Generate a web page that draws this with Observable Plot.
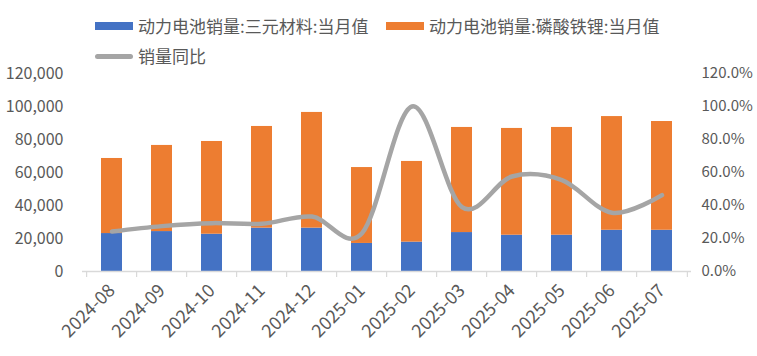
<!DOCTYPE html>
<html><head><meta charset="utf-8">
<script src="https://cdn.jsdelivr.net/npm/d3@7"></script>
<script src="https://cdn.jsdelivr.net/npm/@observablehq/plot@0.6"></script>
<style>
body{margin:0;background:#fff;font-family:"Noto Sans CJK SC",sans-serif;}
#wrap{position:relative;width:757px;height:356px;}
.lg{position:absolute;font-size:17px;color:#595959;white-space:nowrap;line-height:1;}
.sw{position:absolute;}
</style></head><body><div id="wrap"></div>
<script>
const months = ["2024-08","2024-09","2024-10","2024-11","2024-12","2025-01","2025-02","2025-03","2025-04","2025-05","2025-06","2025-07"];
const seriesNames = ["动力电池销量:三元材料:当月值","动力电池销量:磷酸铁锂:当月值","销量同比"];
const ncm = [23000,24200,22600,26300,26300,17000,17800,23600,22000,22000,25000,25000];
const lfp = [45500,52200,56200,61600,70100,46000,48900,63700,64700,65300,68900,65900];
const yoy = [24.2,27.5,29.3,28.9,33.3,23.2,100.0,39.0,57.6,55.4,35.6,46.3];
const leftTicks = [0,20000,40000,60000,80000,100000,120000];
const colors = ["#4472c4","#ed7d31","#a5a5a5"];

const W = 757, H = 356, mL = 82, mR = 66, mT = 73, mB = 85;
const step = (W - mL - mR) / months.length;

const rows = [];
months.forEach((m,i)=>{
  rows.push({month:m, series:seriesNames[0], value:ncm[i]});
  rows.push({month:m, series:seriesNames[1], value:lfp[i]});
});
// secondary axis: 100% on the right axis aligns with 100,000 on the left
const lineRows = months.map((m,i)=>({month:m, v: yoy[i]*1000}));

const chart = Plot.plot({
  width: W, height: H,
  marginLeft: mL, marginRight: mR, marginTop: mT, marginBottom: mB,
  style: {fontFamily: '"Noto Sans CJK SC", sans-serif', fontSize: "16px", color: "#595959", background: "transparent"},
  x: {domain: months, paddingInner: 0.59, paddingOuter: 0.295, label: null},
  y: {domain: [0, 120000], label: null},
  color: {domain: seriesNames.slice(0,2), range: colors.slice(0,2)},
  marks: [
    Plot.barY(rows, {x: "month", y: "value", fill: "series"}),
    Plot.line(lineRows, {x: "month", y: "v", stroke: colors[2], strokeWidth: 4.5, curve: "cardinal", tension: 0, strokeLinecap: "round", strokeLinejoin: "round"}),
    Plot.ruleY([0], {stroke: "#d9d9d9", strokeWidth: 1.5}),
    Plot.axisX({tickSize: 6, tickFormat: () => "", dx: -step/2, stroke: "#d9d9d9", strokeWidth: 1.2}),
    Plot.axisX({ticks: [months[months.length-1]], tickSize: 6, tickFormat: () => "", dx: step/2, stroke: "#d9d9d9", strokeWidth: 1.2}),
    Plot.axisX({tickSize: 0, tickPadding: 16, tickRotate: -45, fill: "#595959", fontSize: 18}),
    Plot.axisY({anchor: "left", ticks: leftTicks, tickSize: 0, tickPadding: 19, tickFormat: d3.format(","), fill: "#595959", fontSize: 16}),
    Plot.axisY({anchor: "right", ticks: leftTicks, tickSize: 0, tickPadding: 10, tickFormat: d => (d/1000).toFixed(1) + "%", fill: "#595959", fontSize: 15})
  ]
});
const wrap = document.getElementById("wrap");
wrap.appendChild(chart);

// legend
function addSwatch(x, y, w, h, c, round){
  const s = document.createElement("div");
  s.className = "sw";
  s.style.left = x+"px"; s.style.top = y+"px"; s.style.width = w+"px"; s.style.height = h+"px";
  s.style.background = c;
  if (round) s.style.borderRadius = (h/2)+"px";
  wrap.appendChild(s);
}
function addText(x, yc, t){
  const d = document.createElement("div");
  d.className = "lg"; d.textContent = t;
  d.style.left = x+"px"; d.style.top = (yc-9)+"px";
  wrap.appendChild(d);
}
addSwatch(95, 22, 38, 8, colors[0]);
addText(138, 26, seriesNames[0]);
addSwatch(386, 22, 38, 8, colors[1]);
addText(429, 26, seriesNames[1]);
addSwatch(95, 54, 38, 5, colors[2], true);
addText(138, 56, seriesNames[2]);
</script></body></html>
